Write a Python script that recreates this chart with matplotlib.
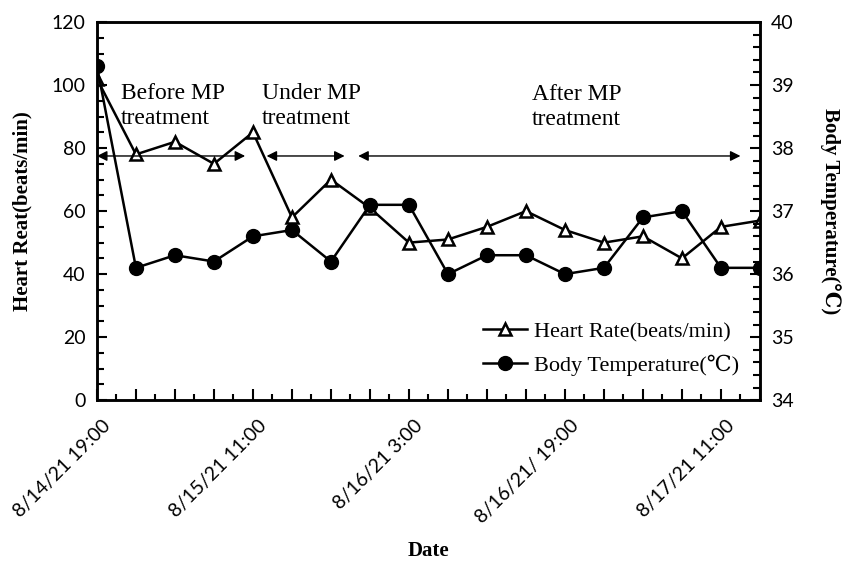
import matplotlib.pyplot as plt
from matplotlib.ticker import MultipleLocator
from matplotlib.transforms import ScaledTranslation

# time points every 4 h from 8/14/21 19:00
tick_pos = [0, 4, 8, 12, 16]
tick_labels = ['8/14/21 19:00', '8/15/21 11:00', '8/16/21 3:00', '8/16/21/ 19:00', '8/17/21 11:00']

heart_rate = [102, 78, 82, 75, 85, 58, 70, 61, 50, 51, 55, 60, 54, 50, 52, 45, 55, 57]
body_temp = [39.3, 36.1, 36.3, 36.2, 36.6, 36.7, 36.2, 37.1, 37.1, 36.0, 36.3, 36.3,
             36.0, 36.1, 36.9, 37.0, 36.1, 36.1]
x = list(range(len(heart_rate)))

serif = ['Liberation Serif', 'DejaVu Serif']
sans = 'Lato'

fig = plt.figure(figsize=(8.43, 5.66), dpi=100)
ax = fig.add_axes([0.115, 0.293, 0.7865, 0.668])
ax2 = ax.twinx()

l1, = ax.plot(x, heart_rate, color='black', lw=1.8, marker='^', ms=9,
              mfc='white', mec='black', mew=1.8, label='Heart Rate(beats/min)')
l2, = ax2.plot(x, body_temp, color='black', lw=1.8, marker='o', ms=10,
               mfc='black', mec='black', label='Body Temperature(℃)')

ax.set_xlim(0, 17)
ax.set_ylim(0, 120)
ax2.set_ylim(34, 40)
ax.yaxis.set_major_locator(MultipleLocator(20))
ax.yaxis.set_minor_locator(MultipleLocator(5))
ax2.yaxis.set_major_locator(MultipleLocator(1))
ax2.yaxis.set_minor_locator(MultipleLocator(0.2))
ax.set_xticks(x)
ax.set_xticks([i + 0.5 for i in range(17)], minor=True)
ax.set_xticklabels([])

# date labels drawn as texts so they can be nudged
shift = ScaledTranslation(5 / 100, -17 / 100, fig.dpi_scale_trans)
for p, lab in zip(tick_pos, tick_labels):
    ax.text(p, 0, lab, transform=ax.get_xaxis_transform() + shift,
            rotation=45, ha='right', va='top', rotation_mode='anchor',
            fontfamily=sans, fontsize=14)

for a in (ax, ax2):
    for s in a.spines.values():
        s.set_linewidth(1.8)
    a.tick_params(which='both', direction='in', width=1.5, labelsize=14)
    a.tick_params(which='major', length=7)
    a.tick_params(which='minor', length=5)
    for lab in a.get_yticklabels():
        lab.set_fontfamily(sans)
ax.tick_params(axis='x', which='major', length=8)
ax.tick_params(axis='x', which='minor', length=4)
ax.tick_params(axis='y', pad=8)
ax2.tick_params(axis='y', pad=8)

ax.set_ylabel('Heart Reat(beats/min)', family=serif, fontweight='bold', fontsize=15, labelpad=14)
ax2.set_ylabel('Body Temperature(℃)', family=serif, fontweight='bold', fontsize=15,
               rotation=270, labelpad=34)
ax.text(0.5, -0.40, 'Date', transform=ax.transAxes, family=serif, fontweight='bold',
        fontsize=15, ha='center', va='center')

# phase arrows
arrow = dict(arrowstyle='<|-|>', color='black', lw=1, mutation_scale=15, shrinkA=0, shrinkB=0)
ax.annotate('', xy=(0, 77.5), xytext=(3.8, 77.5), arrowprops=arrow)
ax.annotate('', xy=(4.35, 77.5), xytext=(6.35, 77.5), arrowprops=arrow)
ax.annotate('', xy=(6.7, 77.5), xytext=(16.5, 77.5), arrowprops=arrow)

ax.text(0.62, 93.3, 'Before MP\ntreatment', family=serif, fontsize=17, va='center',
        linespacing=1.25)
ax.text(4.22, 93.3, 'Under MP\ntreatment', family=serif, fontsize=17, va='center',
        linespacing=1.25)
ax.text(12.3, 93.0, 'After MP\ntreatment', family=serif, fontsize=17, va='center',
        ha='center', linespacing=1.25)

ax2.legend(handles=[l1, l2], loc='lower right', bbox_to_anchor=(0.985, 0.035),
           frameon=False, prop={'family': serif, 'size': 16},
           handlelength=2.0, handletextpad=0.3, labelspacing=0.55, borderpad=0)

ax2.set_zorder(ax.get_zorder() + 1)

fig.savefig('out.png', dpi=100)
